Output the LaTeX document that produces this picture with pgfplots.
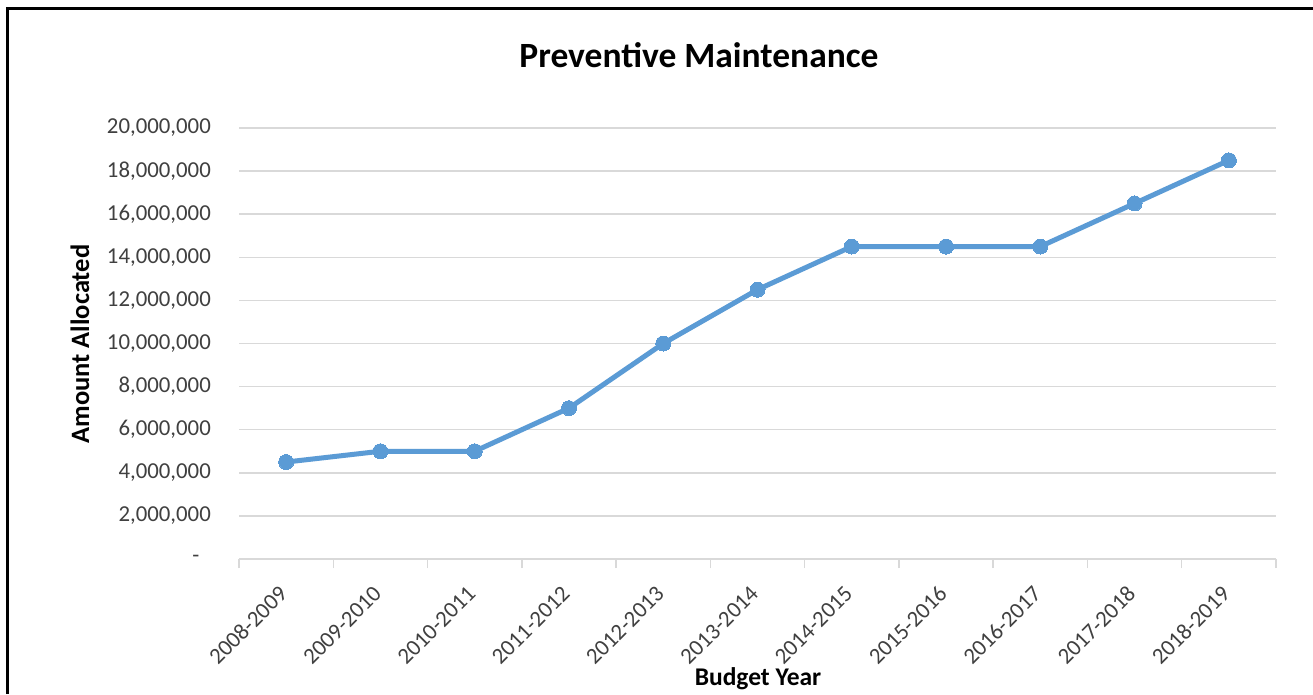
\documentclass[border=0pt]{standalone}
\usepackage{fontspec}
\setmainfont{Carlito}
\usepackage{pgfplots}
\pgfplotsset{compat=1.18}
\definecolor{lineblue}{HTML}{5B9BD5}
\definecolor{gridgray}{HTML}{D9D9D9}
\definecolor{ticktext}{HTML}{404040}
\begin{document}
\begin{tikzpicture}
\useasboundingbox (0pt,0pt) rectangle (1313pt,-694pt);
\fill[white] (0pt,0pt) rectangle (1313pt,-694pt);
\draw[line width=3pt] (7.5pt,-694pt) -- (7.5pt,-8.5pt) -- (1313pt,-8.5pt);
\begin{axis}[
    at={(239pt,-559pt)}, anchor=south west,
    scale only axis, width=1037pt, height=431pt,
    xmin=-0.5, xmax=10.5, ymin=0, ymax=20000000,
    axis x line*=bottom, axis y line*=left,
    x axis line style={draw=gridgray, line width=1.5pt},
    y axis line style={draw=none},
    xtick={0,...,10},
    xticklabels={2008-2009,2009-2010,2010-2011,2011-2012,2012-2013,2013-2014,2014-2015,2015-2016,2016-2017,2017-2018,2018-2019},
    minor xtick={-0.5,0.5,...,10.5},
    major tick length=0pt, minor tick length=9pt, tick align=outside,
    every minor tick/.style={draw=gridgray, line width=1.5pt},
    ytick={0,2000000,4000000,6000000,8000000,10000000,12000000,14000000,16000000,18000000,20000000},
    yticklabels={{-\hphantom{0}},{2,000,000},{4,000,000},{6,000,000},{8,000,000},{10,000,000},{12,000,000},{14,000,000},{16,000,000},{18,000,000},{20,000,000}},
    scaled y ticks=false,
    ymajorgrids, major grid style={draw=gridgray, line width=1.5pt},
    ticklabel style={font=\fontsize{22.8}{27}\selectfont, text=ticktext},
    yticklabel style={anchor=east, inner sep=0pt, xshift=-28pt},
    xticklabel style={xshift=-3pt, yshift=-31pt, rotate=45, anchor=east, inner sep=0pt},
    title={Preventive Maintenance},
    title style={at={(rel axis cs:0.4436,1.155)}, anchor=center, font=\fontsize{35.5}{40}\selectfont\bfseries},
    xlabel={Budget Year},
    every axis x label/.style={at={(rel axis cs:0.5005,-0.2784)}, anchor=center, font=\fontsize{25.5}{30}\selectfont\bfseries},
    ylabel={Amount Allocated},
    every axis y label/.style={at={(rel axis cs:-0.1533,0.4988)}, rotate=90, anchor=center, font=\fontsize{26.5}{30}\selectfont\bfseries},
    clip=false,
]
\addplot[color=lineblue, line width=5pt, mark=*, mark size=7.5pt, mark options={fill=lineblue, draw=lineblue, line width=0pt}] coordinates {
    (0,4500000) (1,5000000) (2,5000000) (3,7000000) (4,10000000) (5,12500000)
    (6,14500000) (7,14500000) (8,14500000) (9,16500000) (10,18500000)
};
\end{axis}
\end{tikzpicture}
\end{document}
